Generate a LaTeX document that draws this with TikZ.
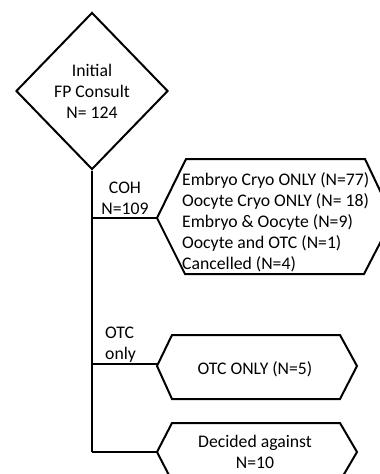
\documentclass[tikz,border=0pt]{standalone}
\usepackage{fontspec}
\setmainfont{Carlito}
\usetikzlibrary{shapes.geometric}
\tikzset{
  lbl/.style={font=\fontsize{17.7}{21}\selectfont, inner sep=0pt, align=center},
  hexbox/.style={draw, line width=2pt, line join=miter},
  conn/.style={line width=2.6pt}
}
\begin{document}
\begin{tikzpicture}[x=1pt,y=-1pt]
\useasboundingbox (0,0) rectangle (380,474);
\clip (0,0) rectangle (380,474);
% diamond
\node[diamond, draw, line width=2pt, minimum width=152pt, minimum height=157pt, inner sep=0pt, lbl] (start) at (92,91) {Initial\\FP Consult\\N= 124};
% hexagons
\draw[hexbox] (157,218) coordinate (h1) -- (186,159) -- (365,159) -- (393,218) -- (364,274) -- (185,274) -- cycle;
\draw[hexbox] (157,366) coordinate (h2) -- (172,335) -- (340,335) -- (357,366) -- (340,399) -- (172,399) -- cycle;
\draw[hexbox] (157,452) coordinate (h3) -- (172,423) -- (340,423) -- (357,452) -- (340,481) -- (172,481) -- cycle;
% texts
\node[lbl, align=left, anchor=west] (t1) at (182,222) {Embryo Cryo ONLY (N=77)\\Oocyte Cryo ONLY (N= 18)\\Embryo \& Oocyte (N=9)\\Oocyte and OTC (N=1)\\Cancelled (N=4)};
\node[lbl] (t2) at (255,369) {OTC ONLY (N=5)};
\node[lbl] (t3) at (255,452) {Decided against\\N=10};
% connectors
\coordinate (j1) at (92,218);
\coordinate (j2) at (92,364);
\coordinate (j3) at (92,452);
\draw[conn] (start.south) -- (j3);
\draw[conn, line width=2pt] (j1) -- (h1);
\draw[conn, line width=2pt] (j2) -- (h2 |- j2);
\draw[conn, line width=2pt] (j3) -- (h3);
% branch labels
\node[lbl] (coh) at (125,198) {COH\\N=109};
\node[lbl, align=left, anchor=west] (otc) at (105,345) {OTC\\only};
\end{tikzpicture}
\end{document}
